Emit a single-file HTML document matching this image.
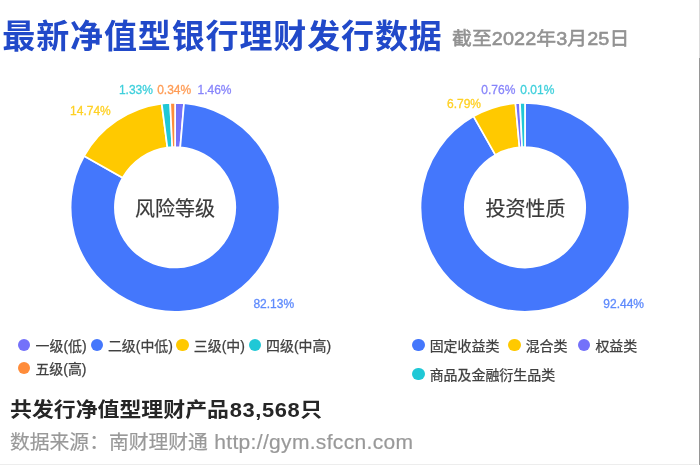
<!DOCTYPE html>
<html lang="zh-CN">
<head>
<meta charset="utf-8">
<title>最新净值型银行理财发行数据</title>
<style>
html,body{margin:0;padding:0;background:#fff;}
body{width:700px;height:465px;position:relative;overflow:hidden;font-family:"Liberation Sans","Noto Sans CJK SC",sans-serif;}
.wrap{position:absolute;left:0;top:0;width:700px;height:465px;background:#fff;overflow:hidden;}
.edge-r{position:absolute;right:0;top:0;width:1.3px;height:465px;background:linear-gradient(to bottom,#dadada 0,#dadada 57.5px,#969696 58.5px,#969696 100%);}
.edge-b{position:absolute;left:0;bottom:0;width:698px;height:1.2px;background:#ededed;}
.title{position:absolute;left:2.3px;top:14px;height:46px;line-height:46px;white-space:nowrap;font-size:33px;font-weight:bold;color:#2149c9;letter-spacing:0.88px;}
.sub{position:absolute;left:452px;top:22px;height:32px;line-height:32px;white-space:nowrap;font-size:19.8px;color:#929292;-webkit-text-stroke:0.6px #929292;letter-spacing:0.12px;transform:scaleY(0.94);transform-origin:0 15px;}
.chart{position:absolute;left:0;top:0;}
.lb{position:absolute;width:80px;height:20px;line-height:20px;text-align:center;font-size:12px;white-space:nowrap;transform:translateY(0.5px);-webkit-text-stroke:0.3px currentColor;opacity:0.86;}
.ct{position:absolute;width:120px;height:30px;line-height:30px;text-align:center;font-size:20px;color:#3a3a3a;white-space:nowrap;-webkit-text-stroke:0.2px #3a3a3a;transform:translateY(0.5px);}
.lg{position:absolute;height:20px;line-height:20px;white-space:nowrap;font-size:13.95px;color:#404040;-webkit-text-stroke:0.25px #404040;}
.lg i{position:absolute;left:0;top:3.85px;width:12.3px;height:12.3px;border-radius:50%;}
.lg span{position:absolute;left:17.4px;top:0;transform:translateY(0.5px);}
.total{position:absolute;left:10px;top:393px;height:34px;line-height:34px;white-space:nowrap;font-size:21.9px;font-weight:bold;color:#262626;transform:scaleY(0.92);transform-origin:0 27px;}
.total .n{letter-spacing:0.6px;margin-left:0.8px;}
.src{position:absolute;left:10px;top:426px;height:32px;line-height:32px;white-space:nowrap;font-size:19.8px;color:#999;-webkit-text-stroke:0.2px #999;}
.src .u{font-family:"Liberation Sans",sans-serif;font-size:21px;letter-spacing:0.32px;margin-left:1px;}
</style>
</head>
<body>
<div class="wrap">
<div class="title">最新净值型银行理财发行数据</div>
<div class="sub">截至2022年3月25日</div>
<svg class="chart" width="700" height="465" viewBox="0 0 700 465">
<path d="M175.10 102.80A104.5 104.5 0 0 1 184.03 103.18L180.24 147.32A60.2 60.2 0 0 0 175.10 147.10Z" fill="#7471fa" stroke="#fff" stroke-width="1.7" stroke-linejoin="miter"/>
<path d="M184.03 103.18A104.5 104.5 0 1 1 84.06 156.00L122.65 177.75A60.2 60.2 0 1 0 180.24 147.32Z" fill="#4477fc" stroke="#fff" stroke-width="1.7" stroke-linejoin="miter"/>
<path d="M84.06 156.00A104.5 104.5 0 0 1 161.73 103.66L167.40 147.59A60.2 60.2 0 0 0 122.65 177.75Z" fill="#ffc900" stroke="#fff" stroke-width="1.7" stroke-linejoin="miter"/>
<path d="M161.73 103.66A104.5 104.5 0 0 1 170.18 102.92L172.26 147.17A60.2 60.2 0 0 0 167.40 147.59Z" fill="#20c8d6" stroke="#fff" stroke-width="1.7" stroke-linejoin="miter"/>
<path d="M170.18 102.92A104.5 104.5 0 0 1 175.10 102.80L175.10 147.10A60.2 60.2 0 0 0 172.26 147.17Z" fill="#ff8c3a" stroke="#fff" stroke-width="1.7" stroke-linejoin="miter"/>
<path d="M525.00 102.80A104.5 104.5 0 1 1 473.54 116.35L495.36 154.90A60.2 60.2 0 1 0 525.00 147.10Z" fill="#4477fc" stroke="#fff" stroke-width="1.7" stroke-linejoin="miter"/>
<path d="M473.54 116.35A104.5 104.5 0 0 1 515.44 103.24L519.49 147.35A60.2 60.2 0 0 0 495.36 154.90Z" fill="#ffc900" stroke="#fff" stroke-width="1.7" stroke-linejoin="miter"/>
<path d="M515.44 103.24A104.5 104.5 0 0 1 519.99 102.92L522.11 147.17A60.2 60.2 0 0 0 519.49 147.35Z" fill="#7471fa" stroke="#fff" stroke-width="1.7" stroke-linejoin="miter"/>
<path d="M519.99 102.92A104.5 104.5 0 0 1 525.00 102.80L525.00 147.10A60.2 60.2 0 0 0 522.11 147.17Z" fill="#20c8d6" stroke="#fff" stroke-width="1.7" stroke-linejoin="miter"/>
</svg>
<div class="ct" style="left:115px;top:193.3px">风险等级</div>
<div class="ct" style="left:465.4px;top:193.3px">投资性质</div>
<div class="lb" style="left:95.9px;top:79px;color:#20c8d6">1.33%</div>
<div class="lb" style="left:134.2px;top:79px;color:#ff8c3a">0.34%</div>
<div class="lb" style="left:174.5px;top:79px;color:#7471fa">1.46%</div>
<div class="lb" style="left:50.4px;top:100px;color:#ffc900">14.74%</div>
<div class="lb" style="left:233.8px;top:293px;color:#4477fc">82.13%</div>
<div class="lb" style="left:458.3px;top:79px;color:#7471fa">0.76%</div>
<div class="lb" style="left:497.3px;top:79px;color:#20c8d6">0.01%</div>
<div class="lb" style="left:424px;top:93px;color:#ffc900">6.79%</div>
<div class="lb" style="left:583.7px;top:293px;color:#4477fc">92.44%</div>
<div class="lg" style="left:18.15px;top:334.8px"><i style="background:#7471fa"></i><span>一级(低)</span></div>
<div class="lg" style="left:90.5px;top:334.8px"><i style="background:#4477fc"></i><span>二级(中低)</span></div>
<div class="lg" style="left:176.4px;top:334.8px"><i style="background:#ffc900"></i><span>三级(中)</span></div>
<div class="lg" style="left:248.7px;top:334.8px"><i style="background:#20c8d6"></i><span>四级(中高)</span></div>
<div class="lg" style="left:18px;top:357.8px"><i style="background:#ff8c3a"></i><span>五级(高)</span></div>
<div class="lg" style="left:412.3px;top:334.8px"><i style="background:#4477fc"></i><span>固定收益类</span></div>
<div class="lg" style="left:508.3px;top:334.8px"><i style="background:#ffc900"></i><span>混合类</span></div>
<div class="lg" style="left:578px;top:334.8px"><i style="background:#7471fa"></i><span>权益类</span></div>
<div class="lg" style="left:412.3px;top:364px"><i style="background:#20c8d6"></i><span>商品及金融衍生品类</span></div>
<div class="total">共发行净值型理财产品<span class="n">83,568</span>只</div>
<div class="src">数据来源：南财理财通 <span class="u">http://gym.sfccn.com</span></div>
<div class="edge-b"></div>
<div class="edge-r"></div>
</div>
</body>
</html>
